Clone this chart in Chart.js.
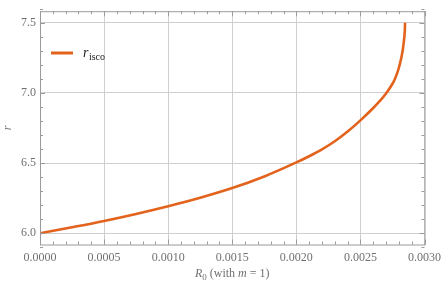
<!DOCTYPE html>
<html>
<head>
<meta charset="utf-8">
<script src="https://cdn.jsdelivr.net/npm/chart.js@4/dist/chart.umd.min.js"></script>
<style>
  body { margin: 0; background: #fff; }
  canvas { display: block; }
</style>
</head>
<body>
<canvas id="chart" width="447" height="285"></canvas>
<script>
// values
const r0Values = [0, 0.00025, 0.0005, 0.00075, 0.001, 0.00125, 0.0015, 0.00175, 0.002,
    0.0021, 0.0022, 0.0023, 0.0024, 0.0025, 0.0026, 0.00265, 0.0027, 0.00275, 0.00277,
    0.00279, 0.0028, 0.00281, 0.00282, 0.00283, 0.00284, 0.002845, 0.002847, 0.002848];
const rIsco = [6.0, 6.043, 6.088, 6.138, 6.193, 6.253, 6.322, 6.405, 6.505,
    6.549, 6.598, 6.656, 6.725, 6.805, 6.893, 6.942, 6.997, 7.066, 7.102,
    7.15, 7.18, 7.215, 7.255, 7.305, 7.375, 7.425, 7.457, 7.5];
const xTicks = [0, 0.0005, 0.001, 0.0015, 0.002, 0.0025, 0.003];
const yTicks = [6.0, 6.5, 7.0, 7.5];

const serif = "'Liberation Serif', 'DejaVu Serif', serif";
const textGray = "#707070";
const frameGray = "#9a9a9a";
const lineColor = "#e3621c";

// draws a run of [text, font] pieces centred on cx
function drawPieces(ctx, pieces, cx, baseline) {
    let total = 0;
    pieces.forEach(p => { ctx.font = p.font; total += ctx.measureText(p.text).width; });
    let x = cx - total / 2;
    pieces.forEach(p => {
        ctx.font = p.font;
        ctx.fillText(p.text, x, baseline + (p.dy || 0));
        x += ctx.measureText(p.text).width;
    });
}

// frame, inward ticks, x title and the legend with subscripts
const framePlugin = {
    id: "frame",
    afterDraw(chart) {
        const { ctx, chartArea: a, scales } = chart;
        const x = scales.x, y = scales.y;
        ctx.save();
        ctx.strokeStyle = frameGray;
        ctx.lineWidth = 1;
        ctx.strokeRect(a.left + 0.5, a.top + 0.5, a.right - a.left, a.bottom - a.top);

        ctx.beginPath();
        for (let i = 0; i <= 30; i++) {
            const v = i * 0.0001;
            const px = Math.round(x.getPixelForValue(v)) + 0.5;
            const len = i % 5 === 0 ? 5 : 3;
            ctx.moveTo(px, a.bottom); ctx.lineTo(px, a.bottom - len);
            ctx.moveTo(px, a.top); ctx.lineTo(px, a.top + len);
        }
        for (let i = 59; i <= 76; i++) {
            const v = i / 10;
            const py = Math.round(y.getPixelForValue(v)) + 0.5;
            const len = i % 5 === 0 ? 5 : 3;
            ctx.moveTo(a.left, py); ctx.lineTo(a.left + len, py);
            ctx.moveTo(a.right, py); ctx.lineTo(a.right - len, py);
        }
        ctx.stroke();

        // x axis title
        ctx.fillStyle = textGray;
        ctx.textBaseline = "alphabetic";
        drawPieces(ctx, [
            { text: "R", font: "italic 12px " + serif },
            { text: "0", font: "9px " + serif, dy: 3 },
            { text: " (with ", font: "12px " + serif },
            { text: "m", font: "italic 12px " + serif },
            { text: " = 1)", font: "12px " + serif }
        ], (a.left + a.right) / 2, 277);

        // legend
        const ds = chart.data.datasets[0];
        ctx.strokeStyle = ds.borderColor;
        ctx.lineWidth = 3;
        ctx.beginPath();
        ctx.moveTo(51, 53); ctx.lineTo(73, 53);
        ctx.stroke();
        ctx.fillStyle = "#222";
        ctx.font = "italic 14px " + serif;
        ctx.fillText("r", 83, 57);
        const w = ctx.measureText("r").width;
        ctx.font = "10px " + serif;
        ctx.fillText("isco", 83 + w + 0.5, 60);
        ctx.restore();
    }
};

new Chart(document.getElementById("chart"), {
    type: "line",
    data: {
        datasets: [{
            label: "r_isco",
            data: r0Values.map((v, i) => ({ x: v, y: rIsco[i] })),
            borderColor: lineColor,
            borderWidth: 2.6,
            pointRadius: 0,
            fill: false,
            cubicInterpolationMode: "monotone"
        }]
    },
    options: {
        responsive: false,
        animation: false,
        layout: { padding: { left: 0, right: 18, top: 4, bottom: 0 } },
        plugins: {
            legend: { display: false },
            tooltip: { enabled: false }
        },
        scales: {
            x: {
                type: "linear",
                min: 0,
                max: 0.003,
                afterFit: s => { s.height = 40.5; },
                afterBuildTicks: s => { s.ticks = xTicks.map(v => ({ value: v })); },
                grid: { color: "#cfcfcf", drawTicks: false },
                border: { display: false },
                ticks: {
                    padding: 6,
                    color: textGray,
                    font: { family: serif, size: 12 },
                    maxRotation: 0,
                    callback: v => Number(v).toFixed(4)
                }
            },
            y: {
                type: "linear",
                min: 5.92,
                max: 7.583,
                afterFit: s => { s.width = 40; },
                afterBuildTicks: s => { s.ticks = yTicks.map(v => ({ value: v })); },
                grid: { color: "#cfcfcf", drawTicks: false },
                border: { display: false },
                ticks: {
                    padding: 4,
                    color: textGray,
                    font: { family: serif, size: 12 },
                    callback: v => Number(v).toFixed(1)
                },
                title: {
                    display: true,
                    text: "r",
                    color: textGray,
                    font: { family: serif, size: 12, style: "italic" },
                    padding: { top: 1, bottom: 0 }
                }
            }
        }
    },
    plugins: [framePlugin]
});
</script>
</body>
</html>
